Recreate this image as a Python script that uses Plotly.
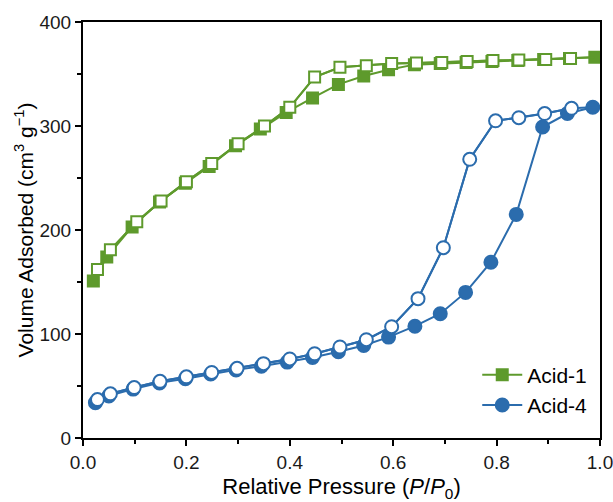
import plotly.graph_objects as go

# Acid-1 adsorption (filled) / desorption (open)
a1_ads_x = [0.02, 0.046, 0.095, 0.148, 0.198, 0.244, 0.295, 0.343, 0.393, 0.444, 0.494,
            0.543, 0.591, 0.641, 0.691, 0.741, 0.791, 0.841, 0.891, 0.941, 0.99]
a1_ads_y = [151, 174, 203, 227, 245, 261, 281, 297, 313, 327, 340,
            348, 354, 359, 360, 361, 362, 363, 364, 365, 366]
a1_des_x = [0.99, 0.943, 0.895, 0.843, 0.793, 0.743, 0.694, 0.645, 0.597, 0.548, 0.497,
            0.448, 0.4, 0.351, 0.3, 0.249, 0.2, 0.151, 0.104, 0.053, 0.028]
a1_des_y = [366, 365, 364, 363.5, 363, 362, 361, 360.5, 360, 358, 356.5,
            347, 318, 300, 283, 264, 246.5, 228, 208, 181, 162]

# Acid-4 adsorption (filled) / desorption (open)
a4_ads_x = [0.024, 0.05, 0.097, 0.148, 0.198, 0.247, 0.296, 0.345, 0.395, 0.444, 0.494,
            0.543, 0.591, 0.642, 0.691, 0.74, 0.789, 0.838, 0.889, 0.937, 0.986]
a4_ads_y = [34, 40.5, 47, 53, 57, 61.5, 65.5, 69, 73, 77.5, 83,
            89, 97, 107.5, 119.5, 140, 169, 215, 299, 312, 318]
a4_des_x = [0.986, 0.945, 0.893, 0.843, 0.798, 0.748, 0.697, 0.648, 0.597, 0.548, 0.497,
            0.448, 0.4, 0.349, 0.298, 0.249, 0.2, 0.149, 0.099, 0.053, 0.028]
a4_des_y = [318, 317, 312, 308, 305, 268, 183, 134, 107, 94.5, 87.5,
            81, 76, 71.5, 67, 63, 58.8, 54.5, 48.5, 42.5, 37]

x_ticks = [0.0, 0.2, 0.4, 0.6, 0.8, 1.0]
y_ticks = [0, 100, 200, 300, 400]

GREEN = "#5e9a2c"
BLUE = "#2b6cad"
FONT = "Liberation Sans, Arial, sans-serif"

fig = go.Figure()

def add(xs, ys, color, symbol, name, filled, legend):
    fig.add_trace(go.Scatter(
        x=xs, y=ys, mode="lines+markers", name=name, showlegend=legend,
        line=dict(color=color, width=2),
        marker=dict(symbol=symbol, size=13 if symbol == "circle" else 11,
                    color=color if filled else "white",
                    line=dict(color=color, width=2)),
    ))

add(a1_ads_x, a1_ads_y, GREEN, "square", "Acid-1", True, True)
add(a4_ads_x, a4_ads_y, BLUE, "circle", "Acid-4", True, True)
fig.add_trace(go.Scatter(x=a1_des_x, y=a1_des_y, mode="lines", showlegend=False,
                         line=dict(color=GREEN, width=2), hoverinfo="skip"))
add(a1_des_x[1:], a1_des_y[1:], GREEN, "square", "Acid-1 des", False, False)
fig.add_trace(go.Scatter(x=a4_des_x, y=a4_des_y, mode="lines", showlegend=False,
                         line=dict(color=BLUE, width=2), hoverinfo="skip"))
add(a4_des_x[1:], a4_des_y[1:], BLUE, "circle", "Acid-4 des", False, False)

axis_common = dict(
    showline=True, linecolor="black", linewidth=2, mirror=True,
    ticks="outside", ticklen=6, tickwidth=1.5, tickcolor="black",
    showgrid=False, zeroline=False, automargin=False, ticklabeloverflow="allow",
    tickfont=dict(family=FONT, size=19, color="#1a1a1a"),
)

fig.update_layout(
    width=613, height=502,
    margin=dict(l=83, r=13, t=22, b=64),
    paper_bgcolor="white", plot_bgcolor="white",
    font=dict(family=FONT, color="black"),
    xaxis=dict(range=[0, 1.0], tickvals=x_ticks, tickformat=".1f",
               minor=dict(ticks="outside", ticklen=4, tickwidth=1.5, tickcolor="black", dtick=0.1),
               title=dict(text="Relative Pressure (<i>P</i>/<i>P</i><sub>0</sub>)",
                          font=dict(family=FONT, size=22), standoff=10),
               **axis_common),
    yaxis=dict(range=[0, 400], tickvals=y_ticks,
               minor=dict(ticks="outside", ticklen=4, tickwidth=1.5, tickcolor="black", dtick=50),
               title=dict(text="Volume Adsorbed (cm<sup>3</sup> g<sup>−1</sup>)",
                          font=dict(family=FONT, size=21), standoff=0),
               **axis_common),
    legend=dict(x=0.985, xanchor="right", y=0.03, yanchor="bottom",
                font=dict(family=FONT, size=21, color="black"),
                bgcolor="rgba(0,0,0,0)", tracegroupgap=0, itemwidth=40),
    showlegend=True,
)

# remove the default 8px page margin so the figure fills the window exactly
fig.write_html("out.html",
               config={"displayModeBar": False},
               post_script="document.body.style.margin='0';document.body.style.overflow='hidden';")
